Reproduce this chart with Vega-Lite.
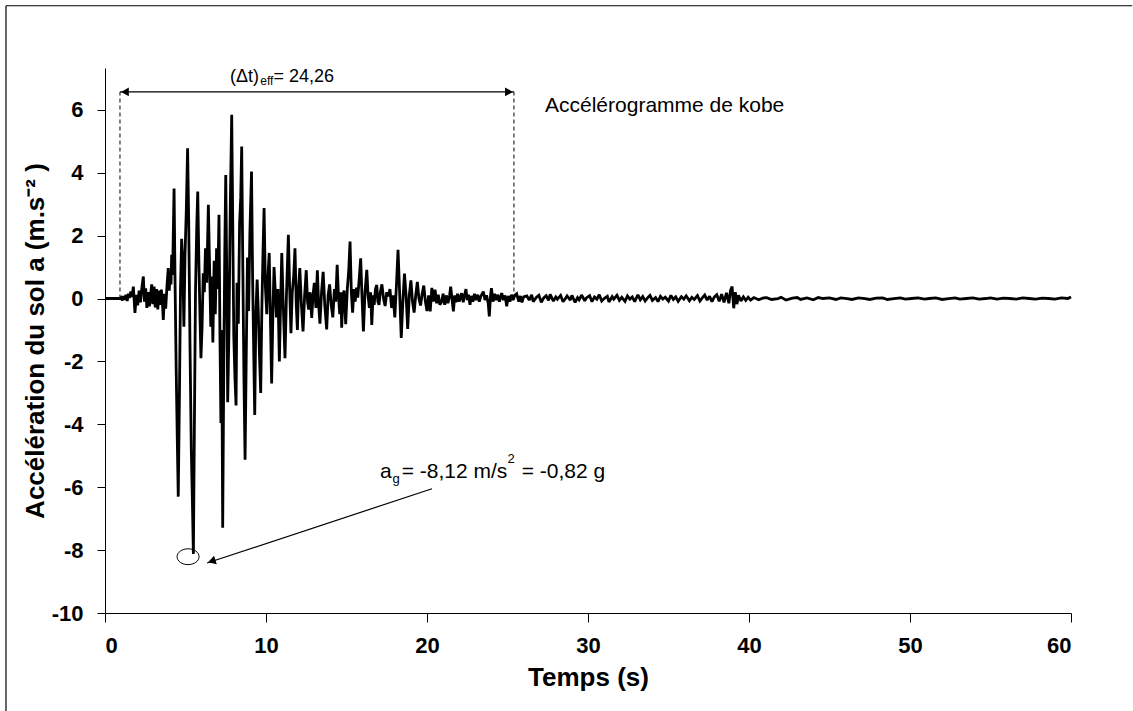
{
  "$schema": "https://vega.github.io/schema/vega-lite/v6.json",
  "width": 966,
  "height": 545,
  "autosize": {"type": "none"},
  "padding": {"left": 105, "top": 68, "right": 62, "bottom": 98},
  "background": "white",
  "config": {"view": {"stroke": null}, "font": "Liberation Sans"},
  "encoding": {
    "x": {
      "field": "t", "type": "quantitative",
      "scale": {"domain": [0, 60], "nice": false, "zero": false},
      "axis": {
        "values": [0, 10, 20, 30, 40, 50, 60], "title": "Temps (s)", "grid": false,
        "domainColor": "#000", "tickColor": "#000", "tickSize": 9,
        "labelFont": "Liberation Sans", "labelFontSize": 22, "labelFontWeight": "bold", "labelColor": "#000", "labelPadding": 13,
        "titleFont": "Liberation Sans", "titleFontSize": 26, "titleFontWeight": "bold", "titleColor": "#000", "titlePadding": 8
      }
    },
    "y": {
      "field": "a", "type": "quantitative",
      "scale": {"domain": [-10, 7.33], "nice": false, "zero": false},
      "axis": {
        "values": [-10, -8, -6, -4, -2, 0, 2, 4, 6], "labelExpr": "'' + datum.value",
        "title": "Accélération du sol  a (m.s⁻² )", "grid": false,
        "domainColor": "#000", "tickColor": "#000", "tickSize": 8,
        "labelFont": "Liberation Sans", "labelFontSize": 22, "labelFontWeight": "bold", "labelColor": "#000", "labelPadding": 14,
        "titleFont": "Liberation Sans", "titleFontSize": 26, "titleFontWeight": "bold", "titleColor": "#000", "titlePadding": 3
      }
    }
  },
  "layer": [
    {
      "data": {"values": [
        {"t":0,"a":0},{"t":0.5,"a":0},{"t":0.93,"a":0},{"t":1.0,"a":0.03},{"t":1.08,"a":-0.06},{"t":1.15,"a":0.08},{"t":1.22,"a":-0.04},{"t":1.3,"a":0.12},{"t":1.38,"a":-0.08},{"t":1.45,"a":0.15},{"t":1.52,"a":0.02},{"t":1.6,"a":0.22},{"t":1.68,"a":0.05},{"t":1.76,"a":0.38},{"t":1.86,"a":-0.46},{"t":1.95,"a":0.12},{"t":2.03,"a":-0.22},{"t":2.12,"a":0.25},{"t":2.2,"a":-0.12},{"t":2.28,"a":0.3},{"t":2.38,"a":0.7},{"t":2.45,"a":-0.1},{"t":2.53,"a":0.32},{"t":2.6,"a":-0.3},{"t":2.68,"a":0.2},{"t":2.76,"a":-0.25},{"t":2.84,"a":0.15},{"t":2.9,"a":0.45},{"t":2.97,"a":-0.18},{"t":3.05,"a":0.38},{"t":3.12,"a":-0.28},{"t":3.2,"a":0.3},{"t":3.28,"a":-0.35},{"t":3.35,"a":0.25},{"t":3.43,"a":-0.2},{"t":3.5,"a":0.28},{"t":3.57,"a":-0.15},{"t":3.62,"a":-0.68},{"t":3.7,"a":0.15},{"t":3.77,"a":-0.32},{"t":3.85,"a":0.4},{"t":3.93,"a":0.97},{"t":3.99,"a":0.25},{"t":4.05,"a":0.85},{"t":4.1,"a":0.45},{"t":4.14,"a":1.39},{"t":4.2,"a":0.75},{"t":4.29,"a":3.5},{"t":4.35,"a":0.6},{"t":4.42,"a":-2.2},{"t":4.5,"a":-4.8},{"t":4.55,"a":-6.3},{"t":4.62,"a":-3.2},{"t":4.69,"a":0.3},{"t":4.76,"a":1.9},{"t":4.83,"a":1.1},{"t":4.9,"a":-0.9},{"t":4.97,"a":1.4},{"t":5.05,"a":2.8},{"t":5.13,"a":4.78},{"t":5.2,"a":2.4},{"t":5.28,"a":-1.5},{"t":5.36,"a":-4.8},{"t":5.43,"a":-6.5},{"t":5.49,"a":-8.12},{"t":5.55,"a":-4.2},{"t":5.62,"a":0.2},{"t":5.7,"a":2.3},{"t":5.76,"a":3.4},{"t":5.83,"a":1.2},{"t":5.9,"a":-0.6},{"t":5.96,"a":-1.9},{"t":6.03,"a":-0.9},{"t":6.1,"a":0.8},{"t":6.17,"a":0.2},{"t":6.24,"a":1.6},{"t":6.32,"a":0.5},{"t":6.42,"a":2.98},{"t":6.5,"a":0.9},{"t":6.57,"a":-0.9},{"t":6.63,"a":0.7},{"t":6.7,"a":-1.4},{"t":6.78,"a":1.2},{"t":6.85,"a":-0.5},{"t":6.93,"a":1.6},{"t":7.0,"a":0.3},{"t":7.08,"a":2.66},{"t":7.14,"a":-1.2},{"t":7.2,"a":-3.96},{"t":7.25,"a":-1.0},{"t":7.31,"a":-7.29},{"t":7.38,"a":-2.0},{"t":7.44,"a":1.5},{"t":7.5,"a":3.93},{"t":7.56,"a":0.8},{"t":7.62,"a":-3.3},{"t":7.7,"a":-1.0},{"t":7.78,"a":2.9},{"t":7.87,"a":5.84},{"t":7.93,"a":2.6},{"t":8.0,"a":-1.2},{"t":8.07,"a":-2.5},{"t":8.14,"a":-3.4},{"t":8.2,"a":0.5},{"t":8.28,"a":-0.8},{"t":8.36,"a":2.4},{"t":8.43,"a":3.2},{"t":8.49,"a":4.83},{"t":8.56,"a":1.0},{"t":8.63,"a":-2.5},{"t":8.7,"a":-5.13},{"t":8.78,"a":-1.5},{"t":8.85,"a":1.3},{"t":8.92,"a":-0.4},{"t":9.0,"a":2.1},{"t":9.1,"a":4.04},{"t":9.17,"a":0.6},{"t":9.24,"a":-1.8},{"t":9.3,"a":-3.7},{"t":9.37,"a":-0.5},{"t":9.45,"a":0.6},{"t":9.52,"a":-0.4},{"t":9.6,"a":-1.9},{"t":9.67,"a":-3.0},{"t":9.74,"a":-0.4},{"t":9.81,"a":1.4},{"t":9.88,"a":2.88},{"t":9.96,"a":0.4},{"t":10.05,"a":-0.5},{"t":10.12,"a":0.7},{"t":10.2,"a":1.45},{"t":10.28,"a":-0.8},{"t":10.35,"a":-2.7},{"t":10.43,"a":-0.4},{"t":10.5,"a":1.0},{"t":10.58,"a":0.2},{"t":10.65,"a":-0.6},{"t":10.74,"a":0.3},{"t":10.83,"a":-2.0},{"t":10.9,"a":-0.3},{"t":10.98,"a":1.45},{"t":11.07,"a":-0.2},{"t":11.18,"a":-1.9},{"t":11.27,"a":0.1},{"t":11.39,"a":2.03},{"t":11.47,"a":0.3},{"t":11.55,"a":-1.1},{"t":11.63,"a":0.2},{"t":11.72,"a":0.7},{"t":11.8,"a":1.6},{"t":11.88,"a":-0.2},{"t":11.95,"a":-1.0},{"t":12.02,"a":0.3},{"t":12.1,"a":0.97},{"t":12.2,"a":-0.2},{"t":12.3,"a":-1.05},{"t":12.4,"a":0.1},{"t":12.5,"a":0.9},{"t":12.58,"a":-0.1},{"t":12.65,"a":-0.35},{"t":12.74,"a":0.2},{"t":12.84,"a":-0.62},{"t":12.92,"a":0.1},{"t":13.0,"a":0.5},{"t":13.1,"a":-0.3},{"t":13.19,"a":0.9},{"t":13.27,"a":-0.2},{"t":13.35,"a":-0.8},{"t":13.45,"a":0.2},{"t":13.55,"a":0.85},{"t":13.65,"a":-0.2},{"t":13.77,"a":-0.98},{"t":13.86,"a":0.1},{"t":13.95,"a":0.45},{"t":14.05,"a":-0.2},{"t":14.15,"a":-0.6},{"t":14.25,"a":0.3},{"t":14.33,"a":-0.1},{"t":14.42,"a":1.07},{"t":14.5,"a":0.1},{"t":14.58,"a":-0.5},{"t":14.65,"a":0.2},{"t":14.7,"a":-0.93},{"t":14.78,"a":0.1},{"t":14.85,"a":0.25},{"t":14.95,"a":-0.82},{"t":15.05,"a":0.3},{"t":15.14,"a":0.9},{"t":15.22,"a":1.81},{"t":15.3,"a":0.2},{"t":15.38,"a":-0.45},{"t":15.46,"a":0.3},{"t":15.54,"a":-0.1},{"t":15.62,"a":0.35},{"t":15.7,"a":0.03},{"t":15.8,"a":0.7},{"t":15.88,"a":1.28},{"t":15.96,"a":0.1},{"t":16.05,"a":-1.05},{"t":16.15,"a":0.2},{"t":16.26,"a":0.91},{"t":16.34,"a":0.1},{"t":16.42,"a":-0.3},{"t":16.5,"a":0.2},{"t":16.57,"a":-0.84},{"t":16.65,"a":0.1},{"t":16.72,"a":-0.2},{"t":16.8,"a":0.3},{"t":16.88,"a":0.43},{"t":16.95,"a":-0.1},{"t":17.02,"a":-0.2},{"t":17.1,"a":0.2},{"t":17.2,"a":0.45},{"t":17.3,"a":0.0},{"t":17.4,"a":-0.24},{"t":17.5,"a":0.2},{"t":17.6,"a":0.07},{"t":17.7,"a":0.3},{"t":17.8,"a":-0.3},{"t":17.9,"a":0.1},{"t":18.0,"a":-0.6},{"t":18.1,"a":0.4},{"t":18.2,"a":1.55},{"t":18.3,"a":0.2},{"t":18.4,"a":-1.25},{"t":18.5,"a":-0.1},{"t":18.6,"a":0.79},{"t":18.7,"a":0.1},{"t":18.8,"a":-0.97},{"t":18.9,"a":0.1},{"t":19.0,"a":0.58},{"t":19.1,"a":-0.1},{"t":19.2,"a":-0.45},{"t":19.3,"a":0.1},{"t":19.4,"a":0.53},{"t":19.5,"a":0.0},{"t":19.6,"a":-0.22},{"t":19.7,"a":0.15},{"t":19.8,"a":0.41},{"t":19.9,"a":-0.1},{"t":20.0,"a":-0.4},{"t":20.1,"a":0.1},{"t":20.2,"a":-0.41},{"t":20.3,"a":0.34},{"t":20.4,"a":-0.1},{"t":20.5,"a":0.28},{"t":20.6,"a":-0.15},{"t":20.7,"a":0.12},{"t":20.8,"a":-0.2},{"t":20.91,"a":-0.1},{"t":21.0,"a":0.15},{"t":21.1,"a":-0.2},{"t":21.2,"a":0.1},{"t":21.3,"a":-0.15},{"t":21.4,"a":0.08},{"t":21.47,"a":0.38},{"t":21.55,"a":0.0},{"t":21.64,"a":-0.41},{"t":21.72,"a":0.1},{"t":21.8,"a":-0.12},{"t":21.9,"a":0.15},{"t":22.0,"a":-0.1},{"t":22.08,"a":0.05},{"t":22.15,"a":0.17},{"t":22.25,"a":-0.12},{"t":22.33,"a":0.1},{"t":22.42,"a":0.3},{"t":22.5,"a":-0.05},{"t":22.58,"a":0.12},{"t":22.67,"a":-0.2},{"t":22.75,"a":0.08},{"t":22.85,"a":-0.1},{"t":22.95,"a":0.15},{"t":23.05,"a":-0.05},{"t":23.15,"a":0.12},{"t":23.25,"a":-0.1},{"t":23.35,"a":0.08},{"t":23.5,"a":0.22},{"t":23.6,"a":-0.05},{"t":23.7,"a":0.1},{"t":23.8,"a":-0.15},{"t":23.87,"a":-0.57},{"t":23.94,"a":0.05},{"t":24.0,"a":0.33},{"t":24.1,"a":-0.1},{"t":24.2,"a":0.15},{"t":24.3,"a":-0.05},{"t":24.4,"a":0.12},{"t":24.5,"a":-0.1},{"t":24.64,"a":0.17},{"t":24.75,"a":-0.05},{"t":24.85,"a":0.1},{"t":24.95,"a":-0.25},{"t":25.05,"a":0.08},{"t":25.15,"a":-0.1},{"t":25.25,"a":0.12},{"t":25.35,"a":-0.05},{"t":25.45,"a":0.1},{"t":25.57,"a":0.15},{"t":25.7,"a":-0.1},{"t":25.8,"a":0.08},{"t":25.9,"a":-0.12},{"t":26.0,"a":0.05},
        {"t":26.2,"a":0.08},{"t":26.35,"a":-0.05},{"t":26.5,"a":0.12},{"t":26.6,"a":-0.1},{"t":26.8,"a":0.04},{"t":26.95,"a":0.1},{"t":27.1,"a":-0.12},{"t":27.25,"a":0.02},{"t":27.4,"a":0.09},{"t":27.55,"a":-0.06},{"t":27.65,"a":0.13},{"t":27.85,"a":-0.08},{"t":28.0,"a":0.05},{"t":28.1,"a":-0.02},{"t":28.3,"a":0.1},{"t":28.45,"a":-0.1},{"t":28.6,"a":0.0},{"t":28.7,"a":0.08},{"t":28.9,"a":-0.05},{"t":29.0,"a":0.1},{"t":29.2,"a":-0.12},{"t":29.35,"a":0.03},{"t":29.45,"a":-0.04},{"t":29.6,"a":0.11},{"t":29.8,"a":-0.07},{"t":29.9,"a":0.02},{"t":30.1,"a":0.09},{"t":30.25,"a":-0.1},{"t":30.4,"a":0.05},{"t":30.55,"a":-0.02},{"t":30.7,"a":0.12},{"t":30.85,"a":-0.08},{"t":31.0,"a":0.0},{"t":31.2,"a":0.07},{"t":31.3,"a":-0.11},{"t":31.5,"a":0.06},{"t":31.6,"a":-0.02},{"t":31.8,"a":0.1},{"t":31.95,"a":-0.06},{"t":32.1,"a":0.04},{"t":32.3,"a":-0.09},{"t":32.45,"a":0.08},{"t":32.6,"a":-0.02},{"t":32.75,"a":0.05},{"t":32.9,"a":-0.1},{"t":33.1,"a":0.12},{"t":33.25,"a":-0.04},{"t":33.4,"a":0.06},{"t":33.55,"a":-0.08},{"t":33.7,"a":0.02},{"t":33.85,"a":0.1},{"t":34.0,"a":-0.06},{"t":34.2,"a":0.03},{"t":34.35,"a":-0.1},{"t":34.5,"a":0.07},{"t":34.65,"a":-0.02},{"t":34.8,"a":0.04},{"t":35.0,"a":-0.08},{"t":35.15,"a":0.1},{"t":35.3,"a":-0.03},{"t":35.45,"a":0.05},{"t":35.6,"a":-0.09},{"t":35.8,"a":0.06},{"t":35.95,"a":-0.02},{"t":36.1,"a":0.08},{"t":36.3,"a":-0.07},{"t":36.45,"a":0.04},{"t":36.6,"a":-0.03},{"t":36.8,"a":0.09},{"t":36.95,"a":-0.08},{"t":37.1,"a":0.02},{"t":37.25,"a":0.11},{"t":37.4,"a":-0.05},{"t":37.55,"a":0.07},{"t":37.7,"a":-0.1},{"t":37.85,"a":0.05},{"t":38.0,"a":0.12},{"t":38.15,"a":-0.09},{"t":38.3,"a":0.14},{"t":38.45,"a":-0.12},{"t":38.6,"a":0.18},{"t":38.75,"a":-0.15},{"t":38.85,"a":0.25},{"t":38.95,"a":0.38},{"t":39.05,"a":-0.31},{"t":39.15,"a":0.2},{"t":39.25,"a":-0.18},{"t":39.35,"a":0.1},{"t":39.5,"a":-0.08},{"t":39.65,"a":0.05},{"t":39.8,"a":-0.06},{"t":39.95,"a":0.04},{"t":40.1,"a":-0.05},{"t":40.3,"a":0.03},
        {"t":40.6,"a":-0.04},{"t":40.9,"a":0.02},{"t":41.1,"a":0.03},{"t":41.4,"a":-0.03},{"t":41.8,"a":0.0},{"t":42.0,"a":0.04},{"t":42.3,"a":-0.05},{"t":42.7,"a":0.01},{"t":43.0,"a":0.03},{"t":43.2,"a":-0.03},{"t":43.6,"a":0.02},{"t":44.0,"a":-0.04},{"t":44.3,"a":0.03},{"t":44.6,"a":0.0},{"t":45.0,"a":0.02},{"t":45.4,"a":-0.03},{"t":45.7,"a":0.02},{"t":46.1,"a":0.0},{"t":46.4,"a":-0.03},{"t":46.8,"a":0.02},{"t":47.2,"a":0.0},{"t":47.5,"a":-0.03},{"t":47.9,"a":0.01},{"t":48.3,"a":0.02},{"t":48.6,"a":-0.03},{"t":49.0,"a":0.0},{"t":49.4,"a":0.02},{"t":49.7,"a":-0.02},{"t":50.1,"a":0.0},{"t":50.5,"a":0.02},{"t":50.9,"a":-0.02},{"t":51.2,"a":0.0},{"t":51.6,"a":0.02},{"t":52.0,"a":-0.03},{"t":52.4,"a":0.0},{"t":52.8,"a":0.02},{"t":53.1,"a":-0.02},{"t":53.5,"a":0.0},{"t":53.9,"a":0.02},{"t":54.3,"a":-0.02},{"t":54.7,"a":0.0},{"t":55.0,"a":0.02},{"t":55.4,"a":-0.02},{"t":55.8,"a":0.01},{"t":56.2,"a":0.0},{"t":56.6,"a":-0.02},{"t":57.0,"a":0.02},{"t":57.4,"a":0.0},{"t":57.8,"a":-0.02},{"t":58.2,"a":0.01},{"t":58.6,"a":0.0},{"t":59.0,"a":-0.02},{"t":59.4,"a":0.02},{"t":59.8,"a":0.0},{"t":60.0,"a":0.05}
      ]},
      "mark": {"type": "line", "color": "#000", "strokeWidth": 2.8, "strokeJoin": "miter", "strokeMiterLimit": 2}
    },
    {
      "data": {"values": [
        {"t": 0.93, "t2": 0.93, "a": 0, "a2": 6.57},
        {"t": 25.4, "t2": 25.4, "a": 0, "a2": 6.57}
      ]},
      "mark": {"type": "rule", "color": "#000", "strokeWidth": 1, "strokeDash": [4, 3]},
      "encoding": {"x2": {"field": "t2"}, "y2": {"field": "a2"}}
    },
    {
      "data": {"values": [
        {"t": 0.93, "t2": 25.4, "a": 6.57, "a2": 6.57},
        {"t": 20.31, "t2": 6.34, "a": -6.05, "a2": -8.41},
        {"t": -6.15, "t2": 63.8, "a": 9.31, "a2": 9.31},
        {"t": -6.15, "t2": -6.15, "a": 9.31, "a2": -13.2}
      ]},
      "mark": {"type": "rule", "color": "#000", "strokeWidth": 1.2},
      "encoding": {"x2": {"field": "t2"}, "y2": {"field": "a2"}}
    },
    {
      "data": {"values": [{"t": 1.24, "a": 6.57}]},
      "mark": {"type": "point", "shape": "triangle-left", "filled": true, "color": "#000", "opacity": 1, "size": 80}
    },
    {
      "data": {"values": [{"t": 25.09, "a": 6.57}]},
      "mark": {"type": "point", "shape": "triangle-right", "filled": true, "color": "#000", "opacity": 1, "size": 80}
    },
    {
      "data": {"values": [{"t": 6.63, "a": -8.35}]},
      "mark": {"type": "point", "shape": "triangle-up", "angle": 252, "filled": true, "color": "#000", "opacity": 1, "size": 80}
    },
    {
      "data": {"values": [{"t": 5.16, "a": -8.21}]},
      "mark": {"type": "point", "shape": "M-1,0A1,0.72,0,1,1,1,0A1,0.72,0,1,1,-1,0Z", "filled": false, "color": "#000", "strokeWidth": 1, "opacity": 1, "size": 484}
    },
    {
      "data": {"values": [
        {"t": 7.76, "a": 6.9, "label": "(Δt)"},
        {"t": 10.47, "a": 6.9, "label": "= 24,26"}
      ]},
      "mark": {"type": "text", "align": "left", "baseline": "alphabetic", "font": "Liberation Sans", "fontSize": 18, "color": "#000"},
      "encoding": {"text": {"field": "label"}}
    },
    {
      "data": {"values": [
        {"t": 27.33, "a": 5.94, "label": "Accélérogramme de kobe"},
        {"t": 17.08, "a": -5.71, "label": "a"},
        {"t": 18.43, "a": -5.71, "label": "= -8,12 m/s"},
        {"t": 25.88, "a": -5.71, "label": "= -0,82 g"}
      ]},
      "mark": {"type": "text", "align": "left", "baseline": "alphabetic", "font": "Liberation Sans", "fontSize": 21, "color": "#000"},
      "encoding": {"text": {"field": "label"}}
    },
    {
      "data": {"values": [
        {"t": 9.64, "a": 6.78, "label": "eff"}
      ]},
      "mark": {"type": "text", "align": "left", "baseline": "alphabetic", "font": "Liberation Sans", "fontSize": 12, "color": "#000"},
      "encoding": {"text": {"field": "label"}}
    },
    {
      "data": {"values": [
        {"t": 17.85, "a": -5.88, "label": "g"},
        {"t": 25.0, "a": -5.23, "label": "2"}
      ]},
      "mark": {"type": "text", "align": "left", "baseline": "alphabetic", "font": "Liberation Sans", "fontSize": 13, "color": "#000"},
      "encoding": {"text": {"field": "label"}}
    }
  ]
}
